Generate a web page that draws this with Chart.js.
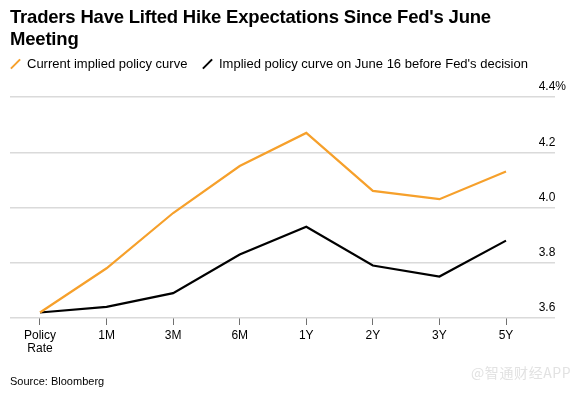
<!DOCTYPE html>
<html>
<head>
<meta charset="utf-8">
<script src="https://cdn.jsdelivr.net/npm/chart.js@4.4.0/dist/chart.umd.min.js"></script>
<style>
  html, body { margin: 0; padding: 0; background: #fff; }
  body { width: 588px; height: 393px; position: relative; overflow: hidden; font-family: "Liberation Sans", Arial, sans-serif; color: #000; }
  #chart { position: absolute; left: 0; top: 0; width: 588px; height: 393px; }
  .title { position: absolute; left: 10px; top: 6px; font-weight: bold; font-size: 18.5px; line-height: 22px; letter-spacing: -0.2px; }
  .legend { position: absolute; top: 56px; left: 0; font-size: 13px; line-height: 16px; }
  .legend .item { position: absolute; white-space: nowrap; }
  .legend .icon { position: absolute; top: 7px; width: 13px; height: 2px; transform: rotate(-45deg); }
  .source { position: absolute; left: 10px; top: 374px; font-size: 11px; line-height: 14px; }
  .mark { position: absolute; left: 471px; top: 364px; font-size: 14px; line-height: 16px; color: #e2e2e2; letter-spacing: 0.6px; font-family: "Noto Sans CJK SC", sans-serif; }
</style>
</head>
<body>
<canvas id="chart" width="588" height="393"></canvas>
<div class="title">Traders Have Lifted Hike Expectations Since Fed's June<br>Meeting</div>
<div class="legend">
  <div class="item" style="left:8px"><span class="icon" style="left:1px;background:#f6a02b"></span><span style="margin-left:19px">Current implied policy curve</span></div>
  <div class="item" style="left:200px"><span class="icon" style="left:1px;background:#000"></span><span style="margin-left:19px">Implied policy curve on June 16 before Fed's decision</span></div>
</div>
<div class="source">Source: Bloomberg</div>
<div class="mark">@智通财经APP</div>
<script>
// data
const categories = [["Policy", "Rate"], "1M", "3M", "6M", "1Y", "2Y", "3Y", "5Y"];
const currentCurve = [3.62, 3.78, 3.98, 4.15, 4.27, 4.06, 4.03, 4.13];
const june16Curve = [3.62, 3.64, 3.69, 3.83, 3.93, 3.79, 3.75, 3.88];
const yTicks = [3.6, 3.8, 4.0, 4.2, 4.4];

const ORANGE = "#f6a02b";
const BLACK = "#000000";

const toPoints = (arr) => arr.map((v, i) => ({ x: i, y: v }));

const config = {
  type: "line",
  data: {
    datasets: [
      {
        label: "Current implied policy curve",
        data: toPoints(currentCurve),
        borderColor: ORANGE,
        borderWidth: 2.2,
        pointRadius: 0,
        tension: 0,
      },
      {
        label: "Implied policy curve on June 16 before Fed's decision",
        data: toPoints(june16Curve),
        borderColor: BLACK,
        borderWidth: 2.2,
        pointRadius: 0,
        tension: 0,
      },
    ],
  },
  options: {
    responsive: false,
    animation: false,
    events: [],
    layout: {
      padding: { top: 97, left: 10, right: 33, bottom: 35 },
    },
    scales: {
      x: {
        type: "linear",
        min: -0.4506,
        max: 7.736,
        afterBuildTicks: (axis) => {
          axis.ticks = categories.map((c, i) => ({ value: i }));
        },
        afterFit: (axis) => {
          axis.height = 40;
          axis.paddingLeft = 0;
          axis.paddingRight = 0;
        },
        border: { display: false },
        grid: {
          drawOnChartArea: false,
          drawTicks: true,
          tickLength: 7,
          color: "#707070",
          lineWidth: 1,
        },
        ticks: {
          autoSkip: false,
          maxRotation: 0,
          padding: 4,
          color: "#000",
          font: { family: "'Liberation Sans', Arial, sans-serif", size: 12, lineHeight: 1.1 },
          callback: (v) => categories[v],
        },
      },
      y: {
        position: "right",
        min: 3.6,
        max: 4.4,
        afterBuildTicks: (axis) => {
          axis.ticks = yTicks.map((v) => ({ value: v }));
        },
        afterFit: (axis) => {
          axis.width = 0;
          axis.paddingTop = 0;
          axis.paddingBottom = 0;
        },
        border: { display: false },
        grid: {
          drawTicks: false,
          color: "#dadada",
          lineWidth: 1.5,
        },
        ticks: {
          mirror: true,
          crossAlign: "far",
          padding: 11,
          labelOffset: -10,
          color: "#000",
          font: { family: "'Liberation Sans', Arial, sans-serif", size: 12 },
          callback: (v) => v.toFixed(1) + (v === 4.4 ? "%" : ""),
        },
      },
    },
    plugins: {
      legend: { display: false },
      title: { display: false },
      tooltip: { enabled: false },
    },
  },
};

new Chart(document.getElementById("chart"), config);
</script>
</body>
</html>
